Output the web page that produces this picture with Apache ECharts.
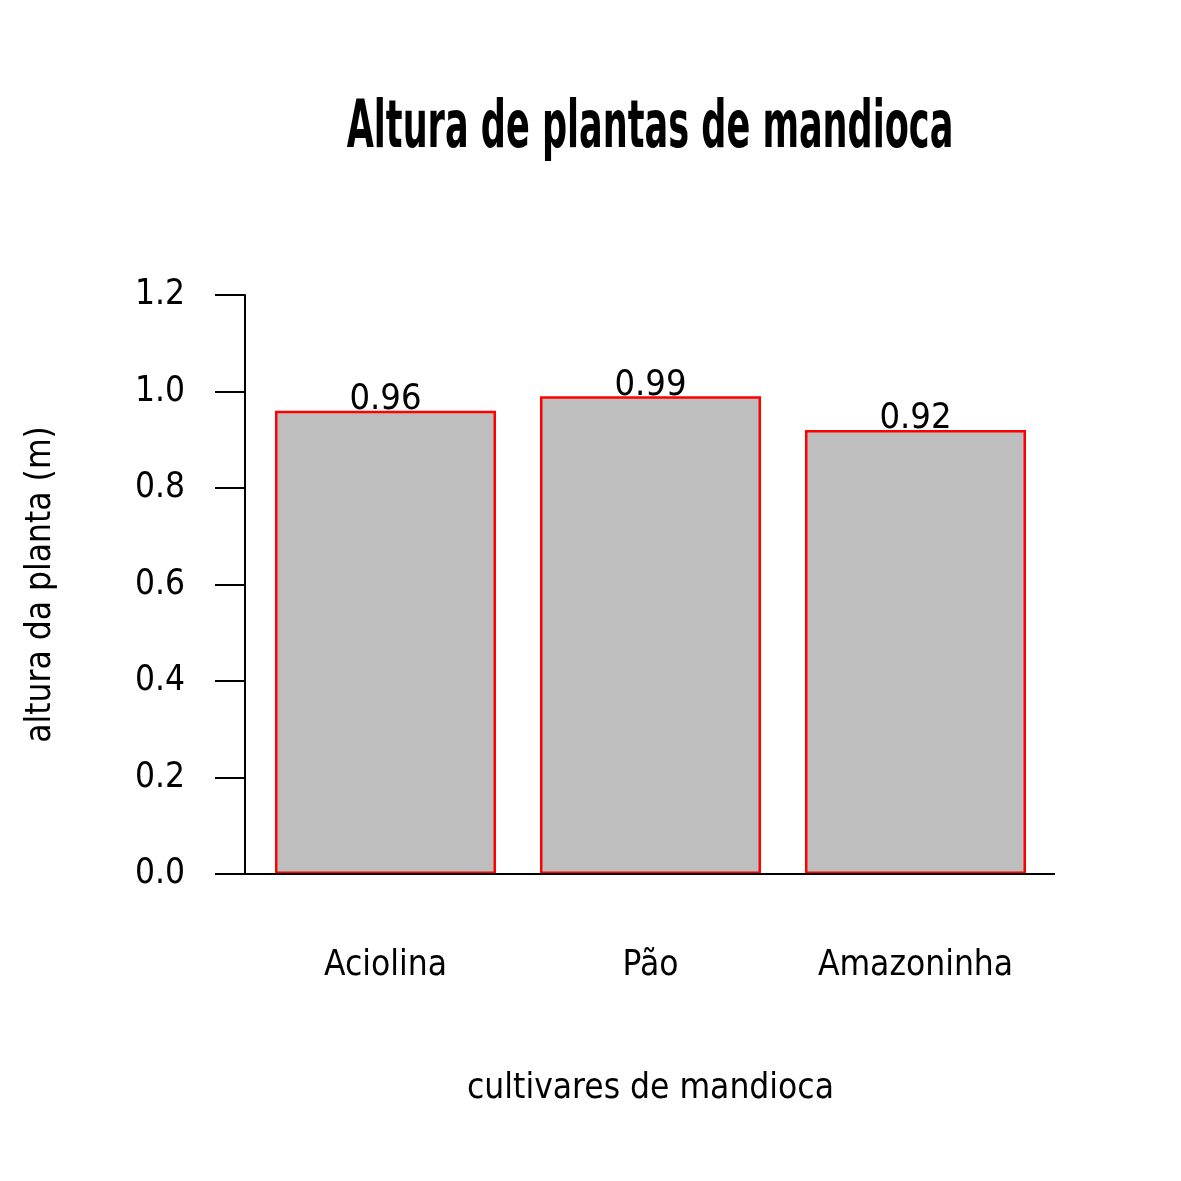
<!DOCTYPE html>
<html><head><meta charset="utf-8">
<script src="https://cdn.jsdelivr.net/npm/echarts@6/dist/echarts.min.js"></script>
<style>html,body{margin:0;padding:0;background:#fff}#c{width:1181px;height:1181px}</style>
</head><body><div id="c"></div>
<script>
const categories = ['Aciolina', 'Pão', 'Amazoninha'];
const heights = [0.96, 0.99, 0.92];
const valueLabels = ['0.96', '0.99', '0.92'];
const yTicks = ['0.0', '0.2', '0.4', '0.6', '0.8', '1.0', '1.2'];
const titleText = 'Altura de plantas de mandioca';

const FONT = '"Liberation Sans Narrow", "DejaVu Sans Condensed", sans-serif';
const chart = echarts.init(document.getElementById('c'), null, {renderer: 'canvas'});
chart.setOption({
  backgroundColor: '#ffffff',
  animation: false,
  grid: {left: 253, right: 133, top: 295, bottom: 307, containLabel: false},
  xAxis: {
    type: 'category', data: categories,
    name: 'cultivares de mandioca', nameLocation: 'middle', nameGap: 197,
    nameTextStyle: {fontFamily: FONT, fontSize: 35, color: '#000'},
    axisLine: {show: false}, axisTick: {show: false},
    axisLabel: {interval: 0, margin: 74, fontFamily: FONT, fontSize: 35, color: '#000'}
  },
  yAxis: {
    type: 'value', min: 0, max: 1.2, interval: 0.2, offset: 8,
    name: 'altura da planta (m)', nameLocation: 'middle', nameGap: 187,
    nameTextStyle: {fontFamily: FONT, fontSize: 35, color: '#000'},
    axisLine: {show: true, lineStyle: {color: '#000', width: 2}},
    axisTick: {show: true, length: 30, lineStyle: {color: '#000', width: 2}},
    splitLine: {show: false},
    axisLabel: {margin: 60, fontFamily: FONT, fontSize: 35, color: '#000',
      formatter: (v) => yTicks[Math.round(v / 0.2)]}
  },
  series: [{
    type: 'bar', data: heights, barWidth: '83.4%',
    itemStyle: {color: '#bebebe', borderColor: '#ff0000', borderWidth: 2.5},
    label: {show: true, position: 'top', distance: -7, fontFamily: FONT, fontSize: 36, color: '#000',
      formatter: (p) => valueLabels[p.dataIndex]}
  }],
  graphic: [{
    type: 'line', shape: {x1: 215, y1: 874, x2: 1055, y2: 874},
    style: {stroke: '#000', lineWidth: 2}, z: 100
  }, {
    type: 'text', x: 650, y: 130, scaleX: 0.78, scaleY: 1.3,
    style: {text: titleText, fontFamily: FONT, fontWeight: 'bold', fontSize: 50,
      fill: '#000', align: 'center', verticalAlign: 'middle'}
  }]
});
</script></body></html>
